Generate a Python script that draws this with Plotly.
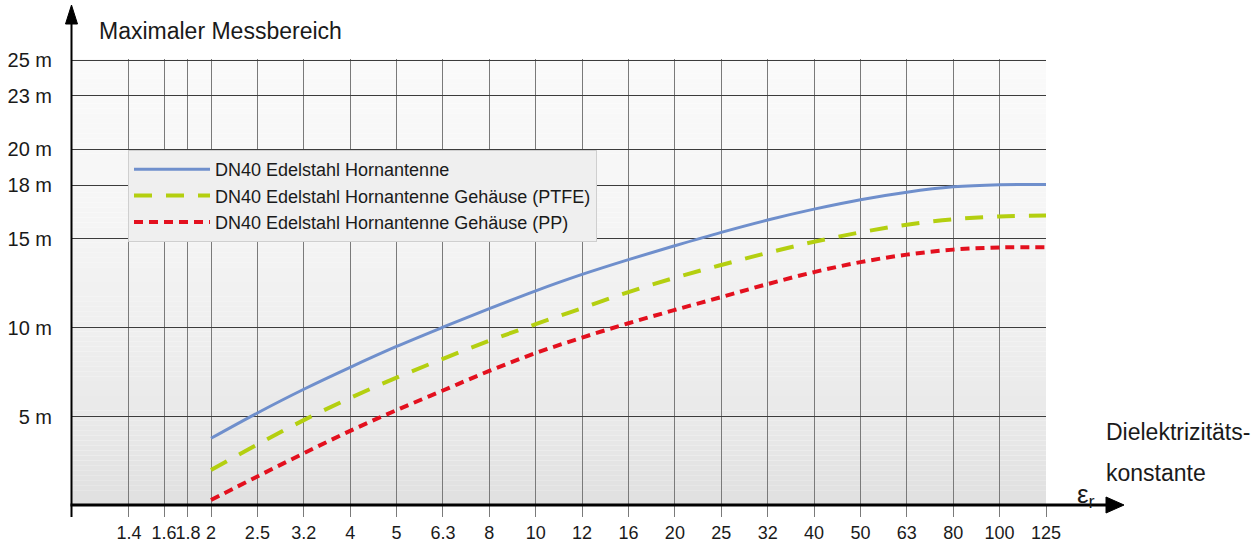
import plotly.graph_objects as go

# ---------------- data ----------------
eps_labels = ["2", "2.5", "3.2", "4", "5", "6.3", "8", "10", "12", "16", "20",
              "25", "32", "40", "50", "63", "80", "100", "125"]
range_horn = [3.80, 5.22, 6.55, 7.78, 8.95, 10.03, 11.07, 12.07, 12.99, 13.82, 14.60,
              15.35, 16.04, 16.65, 17.18, 17.60, 17.90, 18.02, 18.03]
range_ptfe = [2.02, 3.45, 4.82, 6.06, 7.20, 8.26, 9.27, 10.20, 11.10, 12.00, 12.80,
              13.52, 14.20, 14.82, 15.35, 15.78, 16.08, 16.24, 16.29]
range_pp = [0.34, 1.66, 2.96, 4.22, 5.38, 6.48, 7.58, 8.58, 9.45, 10.25, 11.00,
            11.72, 12.45, 13.12, 13.68, 14.10, 14.38, 14.50, 14.52]

x_tick_labels = ["1.4", "1.6", "1.8"] + eps_labels
y_tick_values = [5, 10, 15, 18, 20, 23, 25]
y_tick_labels = ["5 m", "10 m", "15 m", "18 m", "20 m", "23 m", "25 m"]

series_names = ["DN40 Edelstahl Hornantenne",
                "DN40 Edelstahl Hornantenne Gehäuse (PTFE)",
                "DN40 Edelstahl Hornantenne Gehäuse (PP)"]

# ---------------- axis layout (positions of the eps ticks on the axis) ----------------
x_tick_pos = [-1.768, -1.013, -0.496] + list(range(len(eps_labels)))
pos_of = dict(zip(x_tick_labels, x_tick_pos))
x_curve = [pos_of[l] for l in eps_labels]

W, H = 1258, 547
L, R, T, B = 71, 1046, 59, 505


def pxx(p):
    return (p - L) / (R - L)


def pxy(p):
    return (B - p) / (B - T)


FONT = "Liberation Sans, Arial, sans-serif"
NARROW = "Liberation Sans Narrow, Arial Narrow, Liberation Sans, Arial, sans-serif"

fig = go.Figure()

styles = [
    dict(color="#6f8fcc", width=3, dash="solid"),
    dict(color="#b4cf10", width=4, dash="18px,14px"),
    dict(color="#e3101e", width=4, dash="9px,6px"),
]
for name, vals, st in zip(series_names, [range_horn, range_ptfe, range_pp], styles):
    fig.add_trace(go.Scatter(
        x=x_curve, y=vals, mode="lines", name=name,
        line=dict(color=st["color"], width=st["width"], dash=st["dash"],
                  shape="spline", smoothing=1.0),
        hoverinfo="skip",
    ))

# ---------------- background gradient ----------------
stops = [(59, 250), (200, 246), (330, 239), (420, 233), (505, 224)]


def gray_at(p):
    for (p0, g0), (p1, g1) in zip(stops[:-1], stops[1:]):
        if p0 <= p <= p1:
            return g0 + (g1 - g0) * (p - p0) / (p1 - p0)
    return stops[-1][1]


shapes = []
n_bands = 90
for i in range(n_bands):
    p0 = T + (B - T) * i / n_bands
    p1 = T + (B - T) * (i + 1) / n_bands
    g = int(round(gray_at((p0 + p1) / 2)))
    shapes.append(dict(type="rect", xref="paper", yref="paper",
                       x0=0, x1=1, y0=pxy(p1), y1=pxy(p0),
                       fillcolor=f"rgb({g},{g},{g})", line=dict(width=0),
                       layer="below"))

# axis lines with arrows
shapes.append(dict(type="line", xref="paper", yref="paper",
                   x0=pxx(71.5), x1=pxx(71.5), y0=pxy(517), y1=pxy(20),
                   line=dict(color="black", width=2), layer="above"))
shapes.append(dict(type="path", xref="paper", yref="paper",
                   path=f"M {pxx(65.5)},{pxy(24)} L {pxx(71.5)},{pxy(5)} L {pxx(77.5)},{pxy(24)} Z",
                   fillcolor="black", line=dict(color="black", width=1), layer="above"))
shapes.append(dict(type="line", xref="paper", yref="paper",
                   x0=pxx(70.5), x1=pxx(1110), y0=pxy(505), y1=pxy(505),
                   line=dict(color="black", width=3), layer="above"))
shapes.append(dict(type="path", xref="paper", yref="paper",
                   path=f"M {pxx(1106)},{pxy(497)} L {pxx(1124)},{pxy(505)} L {pxx(1106)},{pxy(513)} Z",
                   fillcolor="black", line=dict(color="black", width=1), layer="above"))

annotations = [
    dict(text="Maximaler Messbereich", xref="paper", yref="paper",
         x=pxx(97), y=pxy(31), xanchor="left", yanchor="middle", showarrow=False,
         font=dict(size=23, color="#1a1a1a", family=FONT)),
    dict(text="Dielektrizitäts-", xref="paper", yref="paper",
         x=pxx(1104), y=pxy(432), xanchor="left", yanchor="middle", showarrow=False,
         font=dict(size=23, color="#1a1a1a", family=FONT)),
    dict(text="konstante", xref="paper", yref="paper",
         x=pxx(1104), y=pxy(473), xanchor="left", yanchor="middle", showarrow=False,
         font=dict(size=23, color="#1a1a1a", family=FONT)),
    dict(text="ε<sub>r</sub>", xref="paper", yref="paper",
         x=pxx(1075), y=pxy(495), xanchor="left", yanchor="middle", showarrow=False,
         font=dict(size=26, color="#1a1a1a", family=FONT)),
]

fig.update_layout(
    width=W, height=H,
    margin=dict(l=L, r=W - R, t=T, b=H - B, pad=0, autoexpand=False),
    paper_bgcolor="white", plot_bgcolor="white",
    font=dict(family=FONT, color="#1a1a1a"),
    showlegend=True,
    legend=dict(x=pxx(128), y=pxy(150), xanchor="left", yanchor="top",
                bgcolor="#efefef", bordercolor="#cfcfcf", borderwidth=1,
                font=dict(size=18, family=FONT, color="#1a1a1a"),
                itemwidth=76, tracegroupgap=0),
    xaxis=dict(range=[-3.018, 18.0], tickmode="array", tickvals=x_tick_pos,
               ticktext=x_tick_labels, showgrid=True, gridcolor="#7a7a7a", gridwidth=1,
               ticks="outside", ticklen=11, tickcolor="#7a7a7a", tickwidth=1,
               tickangle=0, automargin=False,
               tickfont=dict(size=18, family=NARROW, color="#1a1a1a"),
               zeroline=False, showline=False, fixedrange=True),
    yaxis=dict(range=[0.06, 25.07], tickmode="array", tickvals=y_tick_values,
               ticktext=y_tick_labels, showgrid=True, gridcolor="#3c3c3c", gridwidth=1,
               ticks="", ticklabelstandoff=18, automargin=False,
               tickfont=dict(size=20, family=FONT, color="#1a1a1a"),
               zeroline=False, showline=False, fixedrange=True),
    shapes=shapes,
    annotations=annotations,
)

fig.write_html(
    "out.html",
    config={"displayModeBar": False},
    post_script="document.body.style.margin='0';document.body.style.overflow='hidden';",
)
